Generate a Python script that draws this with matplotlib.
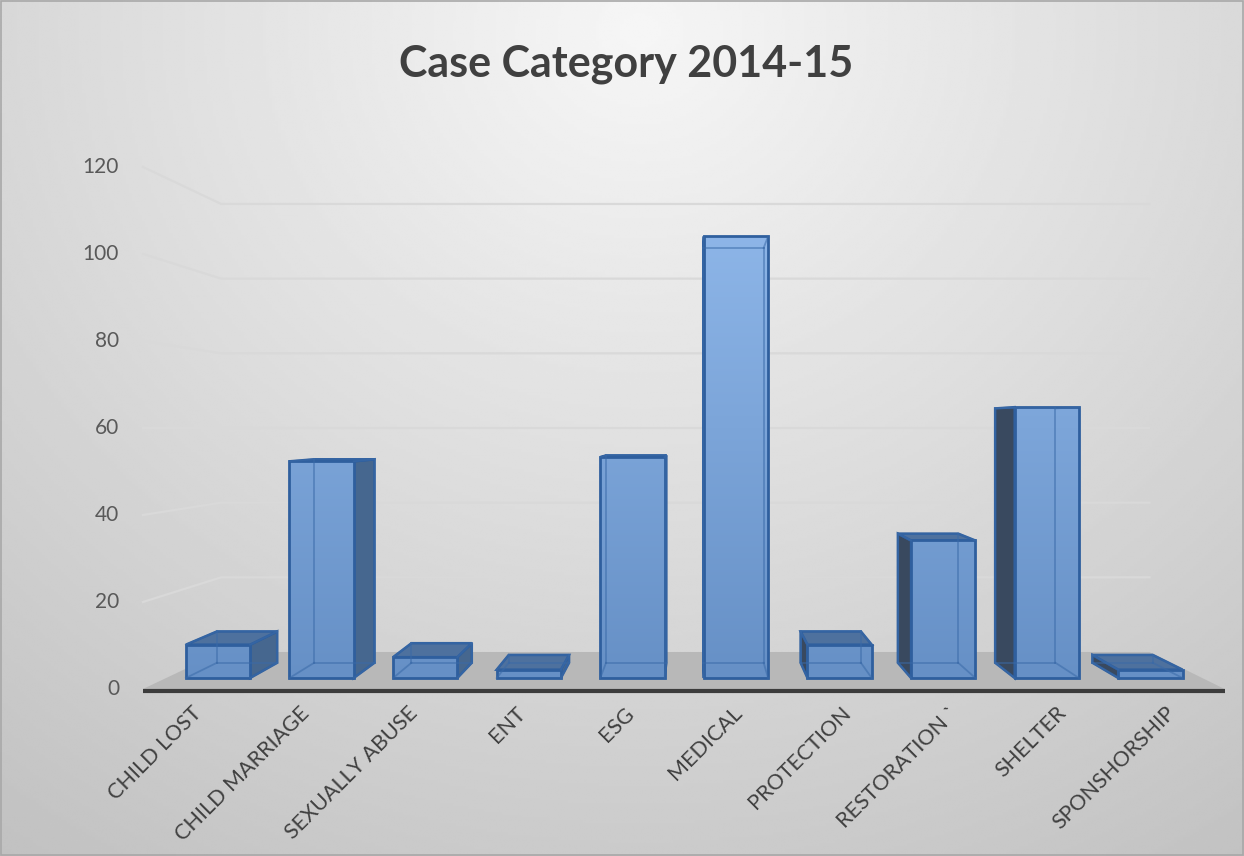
import numpy as np
import matplotlib.pyplot as plt
from matplotlib.patches import Polygon, Rectangle
from matplotlib.colors import LinearSegmentedColormap

plt.rcParams['font.family'] = ['Lato', 'DejaVu Sans']

categories = ["CHILD LOST", "CHILD MARRIAGE", "SEXUALLY ABUSE", "ENT", "ESG",
              "MEDICAL", "PROTECTION", "RESTORATION `", "SHELTER", "SPONSHORSHIP"]
cases = [8, 52, 5, 2, 53, 106, 8, 33, 65, 2]
y_ticks = [0, 20, 40, 60, 80, 100, 120]
title = "Case Category 2014-15"

# pseudo-3D layout: data plane = front plane of the columns
PX = 103.6           # pixels per category
PY = 4.167           # pixels per case
X0_PX, Y0_PX = 218, 678
VP = (4.6, 60.0)     # vanishing point (data units)
S_FLOOR = 1.044      # floor front edge
S_BACK = 0.939       # back face of each column
S_WALL = 0.896       # back wall
BAR_W = 0.62
X_LO, X_HI = -0.5, len(categories) - 0.5


def proj(x, y, s):
    return (VP[0] + s * (x - VP[0]), VP[1] + s * (y - VP[1]))


W, H = 1244, 856
fig = plt.figure(figsize=(W / 100, H / 100), dpi=100)
ax = fig.add_axes([0, 0, 1, 1])
xlim = (-X0_PX / PX, (W - X0_PX) / PX)
ylim = ((Y0_PX - H) / PY, Y0_PX / PY)
ax.set_xlim(*xlim)
ax.set_ylim(*ylim)
ax.axis('off')

# radial background
xx, yy = np.meshgrid(np.linspace(0, W, 400), np.linspace(0, H, 300))
d = np.sqrt(((xx - 640) / 880) ** 2 + ((yy - 30) / 800) ** 2)
lum = np.clip(0.965 - 0.165 * d, 0, 1)
ax.imshow(lum, cmap='gray', vmin=0, vmax=1, extent=(*xlim, *ylim),
          origin='upper', aspect='auto', zorder=0, interpolation='bilinear')

# floor
floor = [proj(X_LO, 0, S_FLOOR), proj(X_HI, 0, S_FLOOR),
         proj(X_HI, 0, S_WALL), proj(X_LO, 0, S_WALL)]
ax.add_patch(Polygon(floor, closed=True, facecolor='#b8b8b8', edgecolor='none', zorder=2))
fl, fr = proj(X_LO, -0.45, S_FLOOR), proj(X_HI, -0.45, S_FLOOR)
ax.plot([fl[0], fr[0]], [fl[1], fr[1]], color='#3c3c3c', lw=3, zorder=2.5,
        solid_capstyle='butt')

# gridlines on side and back walls + tick labels
for v in y_ticks:
    if v > 0:
        pts = [proj(X_LO, v, S_FLOOR), proj(X_LO, v, S_WALL), proj(X_HI, v, S_WALL)]
        ax.plot([p[0] for p in pts], [p[1] for p in pts], color='#d9d9d9',
                lw=1.6, zorder=1)
    lx, ly = proj(X_LO, v, S_FLOOR)
    ax.text(lx - 0.23, ly, str(v), ha='right', va='center', fontsize=15,
            color='#595959', zorder=3)

# columns
blue_cmap = LinearSegmentedColormap.from_list('col', ['#6690c6', '#92baec'])
edge = '#2f5f9e'
bars = ax.bar(range(len(cases)), cases, width=BAR_W, facecolor='none',
              edgecolor=edge, linewidth=2, zorder=5)
grad = np.linspace(0, 1, 256).reshape(-1, 1)

for i, (v, bar) in enumerate(zip(cases, bars)):
    x0, x1 = i - BAR_W / 2, i + BAR_W / 2
    img = ax.imshow(grad, cmap=blue_cmap, extent=(xlim[0], xlim[1], 0, 120),
                    origin='lower', aspect='auto', zorder=4)
    img.set_clip_path(bar)

    b00, b10 = proj(x0, 0, S_BACK), proj(x1, 0, S_BACK)
    b01, b11 = proj(x0, v, S_BACK), proj(x1, v, S_BACK)

    if x1 < VP[0]:
        side = [(x1, 0), (x1, v), b11, b10]
        ax.add_patch(Polygon(side, closed=True, facecolor='#46678f',
                             edgecolor=edge, lw=1.8, zorder=3))
    if x0 > VP[0]:
        side = [(x0, 0), (x0, v), b01, b00]
        ax.add_patch(Polygon(side, closed=True, facecolor='#39495f',
                             edgecolor=edge, lw=1.8, zorder=3))
    if v < VP[1]:
        top = [(x0, v), (x1, v), b11, b01]
        ax.add_patch(Polygon(top, closed=True, facecolor='#4e719e',
                             edgecolor=edge, lw=1.8, zorder=3))

    # back edges seen through the translucent faces
    hidden = [(b00, b10), (b00, b01), (b10, b11), (b01, b11),
              ((x0, 0), b00), ((x1, 0), b10), ((x0, v), b01), ((x1, v), b11)]
    for p, q in hidden:
        ax.plot([p[0], q[0]], [p[1], q[1]], color='#3a6aa8', lw=1.3,
                alpha=0.55, zorder=6)

# category labels
for i, cat in enumerate(categories):
    lx, _ = proj(i, 0, S_FLOOR)
    ax.text(lx + 0.08, -6.0, cat, rotation=45, ha='right', va='top',
            fontsize=15.5, color='#404040', zorder=3)

fig.text(626 / W, 1 - 76 / H, title, ha='center', va='baseline',
         fontsize=31, fontweight='bold', color='#404040')

fig.patches.append(Rectangle((0.001, 0.001), 0.998, 0.998, transform=fig.transFigure,
                             fill=False, edgecolor='#a8a8a8', lw=1.2))

fig.savefig('out.png', dpi=100)
